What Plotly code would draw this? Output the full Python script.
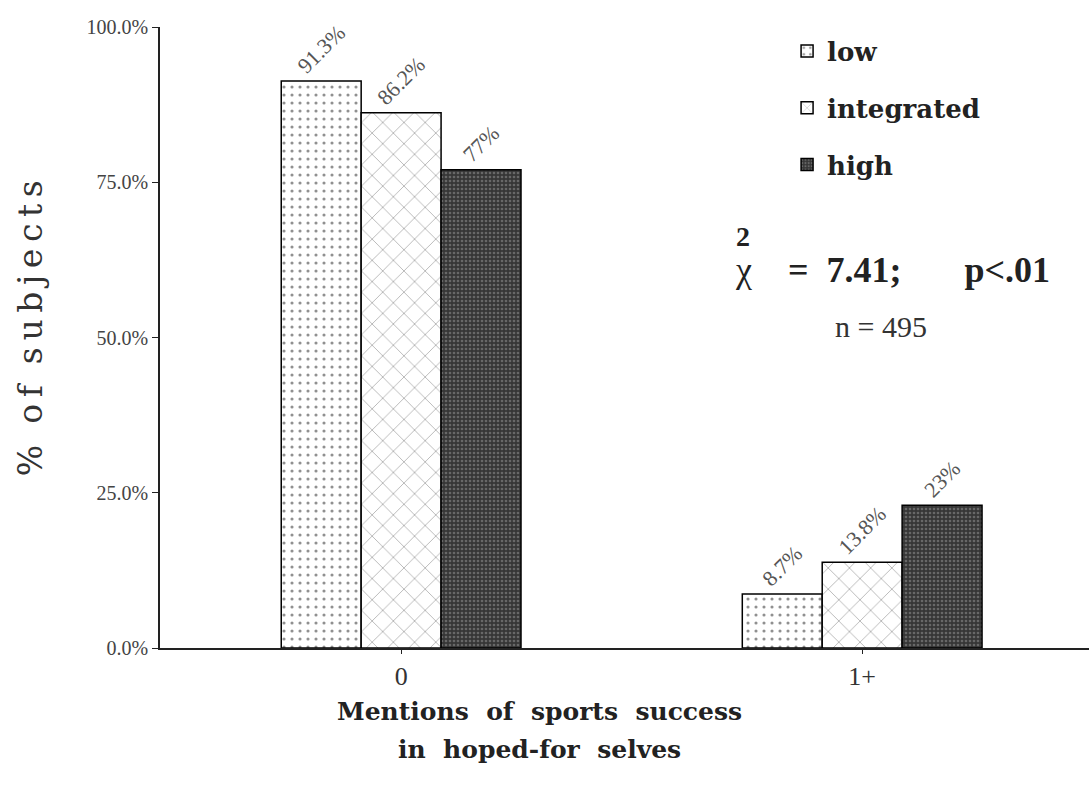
import plotly.graph_objects as go

categories = ["0", "1+"]
series_names = ["low", "integrated", "high"]
low_vals = [91.3, 8.7]
integrated_vals = [86.2, 13.8]
high_vals = [77, 23]
low_labels = ["91.3%", "8.7%"]
integrated_labels = ["86.2%", "13.8%"]
high_labels = ["77%", "23%"]
y_tickvals = [0, 25, 50, 75, 100]
y_ticktext = ["0.0%", "25.0%", "50.0%", "75.0%", "100.0%"]

FONT = "Liberation Serif"
WIDE = "DejaVu Serif"
TS = "\u2009"  # thin space for letter spacing

styles = {
    "low": dict(color="white", pattern=dict(shape=".", fgcolor="#222", bgcolor="white", size=8, solidity=0.12)),
    "integrated": dict(color="white", pattern=dict(shape="x", fgcolor="#222", bgcolor="white", size=15, solidity=0.08)),
    "high": dict(color="#3c3c3c", pattern=dict(shape=".", fgcolor="#9a9a9a", bgcolor="#363636", size=4, solidity=0.35)),
}

fig = go.Figure()
for name, vals, labels in zip(series_names, [low_vals, integrated_vals, high_vals],
                              [low_labels, integrated_labels, high_labels]):
    st = styles[name]
    fig.add_trace(go.Bar(
        x=categories, y=vals, name="<b>" + name + "</b>", legendgroup=name,
        marker=dict(color=st["color"], pattern=st["pattern"], line=dict(color="black", width=1.5)),
        text=labels, textposition="outside", textangle=-45,
        textfont=dict(family=FONT, size=22, color="#555"),
        cliponaxis=False,
    ))

fig.update_layout(
    width=1089, height=803,
    margin=dict(l=160, r=0, t=27, b=155),
    paper_bgcolor="white", plot_bgcolor="white",
    barmode="group", bargap=0.48, bargroupgap=0,
    font=dict(family=FONT, color="#222"),
    legend=dict(x=0.675, y=0.999, xanchor="left", yanchor="top",
                font=dict(family=WIDE, size=26, color="#222"),
                tracegroupgap=20, traceorder="grouped", bgcolor="rgba(0,0,0,0)"),
    showlegend=True,
)
fig.update_xaxes(
    type="category", range=[-0.523, 1.492], automargin=False,
    showline=True, linecolor="#222", linewidth=2,
    ticks="outside", ticklen=4, tickcolor="#222",
    tickfont=dict(family=FONT, size=26, color="#333"),
    showgrid=False,
)
fig.update_yaxes(
    range=[0, 100], tickvals=y_tickvals, ticktext=y_ticktext, automargin=False,
    showline=True, linecolor="#222", linewidth=1.5,
    ticks="outside", ticklen=6, tickcolor="#222",
    tickfont=dict(family=FONT, size=20, color="#444"),
    showgrid=False, zeroline=False,
)

# axis titles
fig.add_annotation(xref="paper", yref="paper", x=0.409, y=-0.103, xanchor="center", yanchor="middle",
                   text="<b>Mentions  of  sports  success</b>", showarrow=False,
                   font=dict(family=WIDE, size=25, color="#222"))
fig.add_annotation(xref="paper", yref="paper", x=0.409, y=-0.164, xanchor="center", yanchor="middle",
                   text="<b>in  hoped-for  selves</b>", showarrow=False,
                   font=dict(family=WIDE, size=25, color="#222"))
ytitle = "%  " + TS.join("of") + "  " + TS.join("subjects")
fig.add_annotation(xref="paper", yref="paper", x=-0.140, y=0.515, xanchor="center", yanchor="middle",
                   text=ytitle, textangle=-90, showarrow=False,
                   font=dict(family=WIDE, size=33, color="#333"))

# statistics
fig.add_annotation(xref="paper", yref="paper", x=0.628, y=0.663, xanchor="center", yanchor="middle",
                   text="<b>2</b>", showarrow=False, font=dict(family=FONT, size=28, color="#222"))
fig.add_annotation(xref="paper", yref="paper", x=0.617, y=0.609, xanchor="left", yanchor="middle",
                   text="χ  <b>  =  7.41;       p&lt;.01</b>", showarrow=False,
                   font=dict(family=FONT, size=36, color="#222"))
fig.add_annotation(xref="paper", yref="paper", x=0.776, y=0.517, xanchor="center", yanchor="middle",
                   text="n = 495", showarrow=False, font=dict(family=FONT, size=30, color="#333"))

fig.write_html("out.html", post_script="document.body.style.margin='0';",
               config={"displayModeBar": False})
